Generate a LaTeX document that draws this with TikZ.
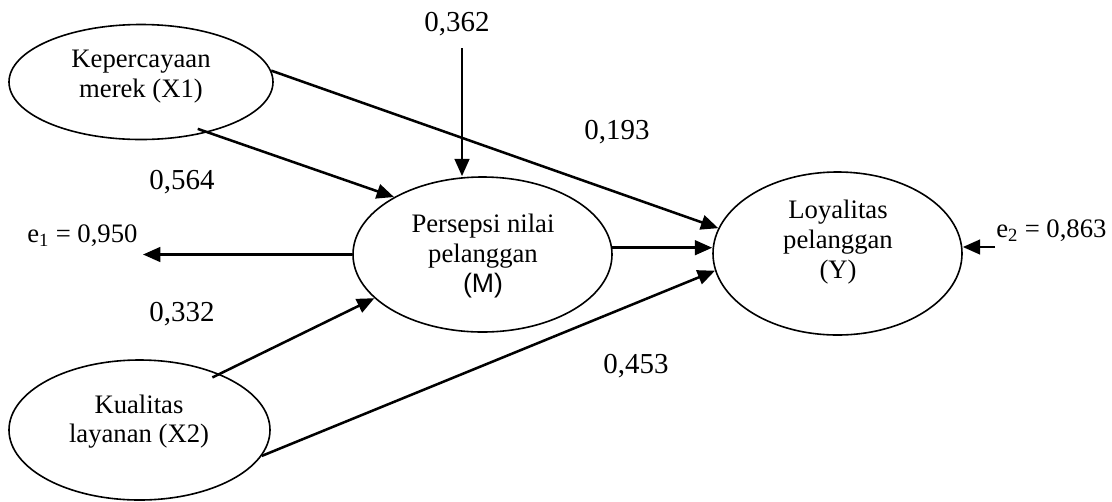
\documentclass[tikz,border=0pt]{standalone}
\usepackage{fontspec}
\setmainfont{Liberation Serif}
\newfontfamily\arialf{Liberation Sans}
\usetikzlibrary{shapes.geometric,arrows.meta}
\tikzset{
  ell/.style={draw,ellipse,line width=1.2pt,inner sep=0pt},
  txt/.style={align=center,font=\fontsize{20}{22.3}\selectfont,inner sep=0pt},
  num/.style={font=\fontsize{21.7}{24}\selectfont,inner sep=0pt},
  elab/.style={font=\fontsize{20}{22}\selectfont,inner sep=0pt},
  arr/.style={line width=1.9pt,-{Triangle[length=13pt,width=11pt]}}
}
\begin{document}
\begin{tikzpicture}[x=0.75pt,y=-0.75pt]
\useasboundingbox (0,0) rectangle (1112,501);
% ellipses
\node[ell,minimum width=198pt,minimum height=86.25pt] (X1) at (141,82) {};
\node[ell,minimum width=194.25pt,minimum height=116.25pt] (M) at (482.5,254.5) {};
\node[ell,minimum width=186.75pt,minimum height=122.25pt] (Y) at (837.5,253.5) {};
\node[ell,minimum width=195.75pt,minimum height=105pt] (X2) at (139.5,430) {};
% ellipse texts
\node[txt] (tX1) at (141,76.5) {Kepercayaan\\merek (X1)};
\node[txt] (tM) at (483,256) {Persepsi nilai\\pelanggan\\{\arialf (M)}};
\node[txt] (tY) at (838,242) {Loyalitas\\pelanggan\\(Y)};
\node[txt] (tX2) at (139,421.5) {Kualitas\\layanan (X2)};
% coefficient labels
\node[num] (n362) at (457,24) {0,362};
\node[num] (n193) at (617,132) {0,193};
\node[num] (n564) at (182,182) {0,564};
\node[num] (n332) at (182,314) {0,332};
\node[num] (n453) at (636,366) {0,453};
\node[elab,anchor=base west] (e1) at (27,242) {e\textsubscript{1} = 0,950};
\node[elab,anchor=base west] (e2) at (996,237) {e\textsubscript{2} = 0,863};
% helper coordinates
\coordinate (topstart) at (462,48);
\coordinate (e1end) at (143,253);
\coordinate (e2start) at (995,247);
% connectors
\draw[arr] (topstart) -- (topstart |- M.north);
\draw[arr,shorten <=-8pt] (X1.-37) -- (M.147);
\draw[arr] (X1.5) -- (Y.168.5);
\draw[arr] (M.3) -- (M.3 -| Y.west);
\draw[arr,shorten <=-6pt] (X2.35) -- (M.202);
\draw[arr] (X2.-12) -- (Y.188);
\draw[arr] (M.west) -- (M.west -| e1end);
\draw[arr] (e2start) -- (e2start -| Y.east);
\end{tikzpicture}
\end{document}
